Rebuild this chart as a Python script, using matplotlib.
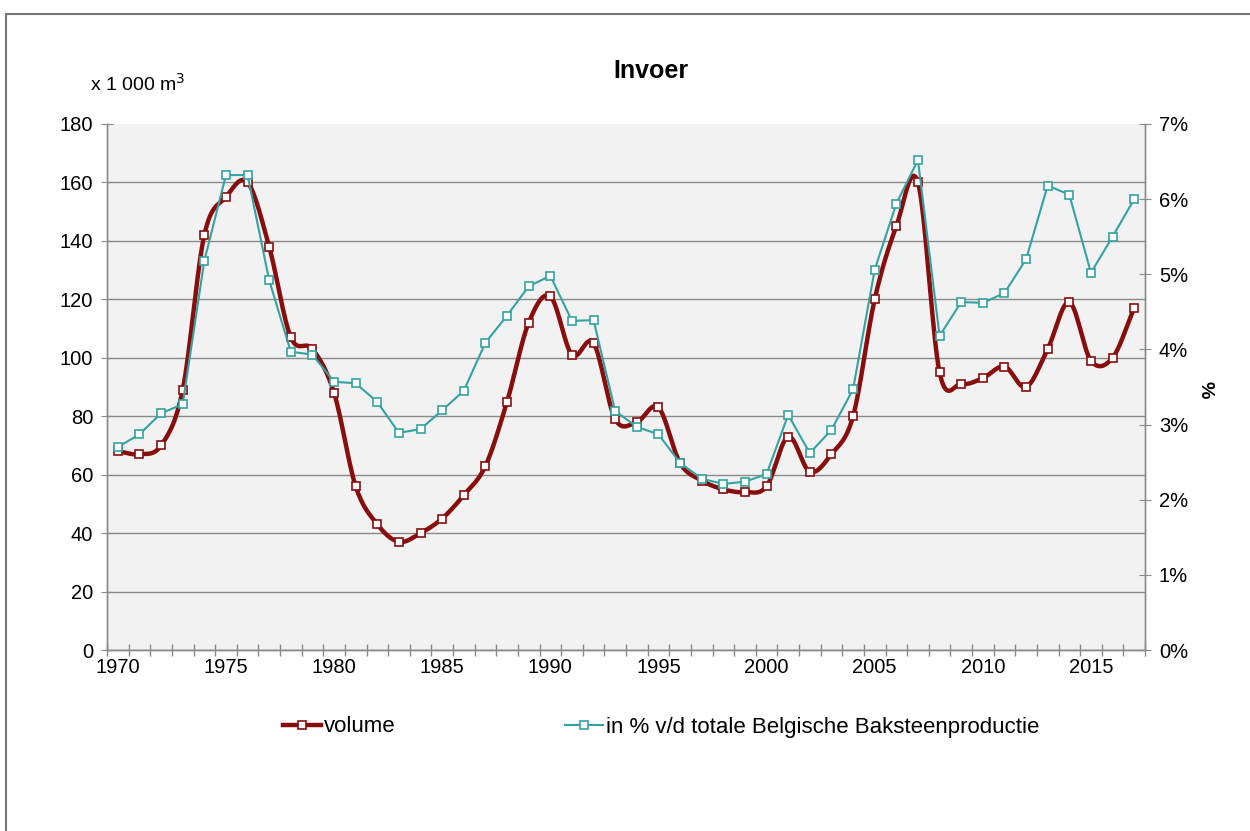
import numpy as np
import matplotlib.pyplot as plt
from matplotlib.lines import Line2D
from matplotlib.ticker import FixedLocator, FuncFormatter

plt.rcParams['font.family'] = ['Liberation Sans', 'DejaVu Sans']

years = list(range(1970, 2018))

# import volume, x 1 000 m3 (left axis)
volume = [68, 67, 70, 89, 142, 155, 160, 138, 107, 103,
          88, 56, 43, 37, 40, 45, 53, 63, 85, 112,
          121, 101, 105, 79, 78, 83, 64, 58, 55, 54,
          56, 73, 61, 67, 80, 120, 145, 160, 95, 91,
          93, 97, 90, 103, 119, 99, 100, 117]

# share of total Belgian brick production, % (right axis)
share = [2.70, 2.87, 3.15, 3.27, 5.18, 6.32, 6.32, 4.92, 3.97, 3.93,
         3.57, 3.55, 3.30, 2.89, 2.94, 3.19, 3.45, 4.09, 4.45, 4.84,
         4.98, 4.38, 4.39, 3.18, 2.97, 2.87, 2.49, 2.28, 2.21, 2.24,
         2.34, 3.13, 2.62, 2.93, 3.47, 5.06, 5.94, 6.52, 4.18, 4.63,
         4.62, 4.75, 5.20, 6.18, 6.06, 5.02, 5.50, 6.00]

red = '#880e0e'
teal = '#35a2a2'
grey = '#8a8a8a'


def smooth(x, y, n=16):
    # Catmull-Rom curve through the points, like Excel's smoothed line
    x = np.asarray(x, float)
    y = np.asarray(y, float)
    px = np.concatenate([[2 * x[0] - x[1]], x, [2 * x[-1] - x[-2]]])
    py = np.concatenate([[2 * y[0] - y[1]], y, [2 * y[-1] - y[-2]]])
    t = np.linspace(0, 1, n, endpoint=False)
    xs, ys = [], []
    for i in range(1, len(px) - 2):
        for p, out in ((px, xs), (py, ys)):
            p0, p1, p2, p3 = p[i - 1], p[i], p[i + 1], p[i + 2]
            out.extend(0.5 * (2 * p1 + (-p0 + p2) * t
                              + (2 * p0 - 5 * p1 + 4 * p2 - p3) * t ** 2
                              + (-p0 + 3 * p1 - 3 * p2 + p3) * t ** 3))
    xs.append(x[-1])
    ys.append(y[-1])
    return np.array(xs), np.array(ys)


fig = plt.figure(figsize=(12.5, 8.31), dpi=100)
ax = fig.add_axes([0.0856, 0.2178, 0.8304, 0.633])
ax.set_facecolor('#f2f2f2')
ax2 = ax.twinx()

idx = np.arange(len(years))

# red smoothed volume line
sx, sy = smooth(idx, volume)
ax.plot(sx, sy, color=red, lw=3.2, zorder=3, solid_capstyle='round')
ax.plot(idx, volume, ls='none', marker='s', ms=5.8, mfc='white',
        mec=red, mew=1.2, zorder=4)

# teal straight share line
ax2.plot(idx, share, color=teal, lw=1.5, marker='s', ms=5.8,
         mfc='white', mec=teal, mew=1.2, zorder=3)

ax.set_xlim(-0.5, len(years) - 0.5)
ax.set_ylim(0, 180)
ax2.set_ylim(0, 7)

ax.set_yticks(range(0, 181, 20))
ax.yaxis.grid(True, color=grey, lw=1)
ax.set_axisbelow(True)
for gl in ax.yaxis.get_gridlines()[-1:]:
    gl.set_visible(False)

ax2.set_yticks(range(0, 8))
ax2.yaxis.set_major_formatter(FuncFormatter(lambda v, p: f'{int(v)}%'))

ax.set_xticks(idx[::5])
ax.set_xticklabels([str(y) for y in years[::5]])
ax.xaxis.set_minor_locator(FixedLocator(np.arange(-0.5, len(years), 1)))
ax.tick_params(axis='x', which='major', length=0, pad=6, labelsize=14.5)
ax.tick_params(axis='x', which='minor', length=8, direction='inout',
               color=grey, width=1)
ax.tick_params(axis='y', length=8, direction='inout', color=grey,
               labelsize=14.5, pad=6)
ax2.tick_params(axis='y', length=8, direction='inout', color=grey,
                labelsize=14.5, pad=6)

for a in (ax, ax2):
    a.spines['top'].set_visible(False)
    for s in ('left', 'right', 'bottom'):
        a.spines[s].set_color(grey)
        a.spines[s].set_linewidth(1)

fig.text(0.5208, 0.915, 'Invoer', ha='center', va='center',
         fontsize=18, fontweight='bold')
fig.text(0.072, 0.899, 'x 1 000 m$^3$', ha='left', va='center', fontsize=14)
fig.text(0.964, 0.531, '%', ha='center', va='center', rotation=270,
         fontsize=14, fontweight='bold')

handles = [
    Line2D([], [], color=red, lw=3.2, marker='s', ms=5.8, mfc='white',
           mec=red, mew=1.2),
    Line2D([], [], color=teal, lw=1.5, marker='s', ms=5.8, mfc='white',
           mec=teal, mew=1.2),
]
fig.legend(handles, ['volume', 'in % v/d totale Belgische Baksteenproductie'],
           loc='center', bbox_to_anchor=(0.529, 1 - 727 / 831), ncol=2,
           frameon=False, fontsize=16, handlelength=1.7, handletextpad=0.15,
           columnspacing=7.6)

# frame around the chart (top and left edges visible)
fig.add_artist(Line2D([0.005, 1.0], [1 - 14 / 831] * 2, color='#777777',
                      lw=1.5, transform=fig.transFigure))
fig.add_artist(Line2D([0.005, 0.005], [0, 1 - 14 / 831], color='#777777',
                      lw=1.5, transform=fig.transFigure))

fig.savefig('out.png', dpi=100, facecolor='white')
